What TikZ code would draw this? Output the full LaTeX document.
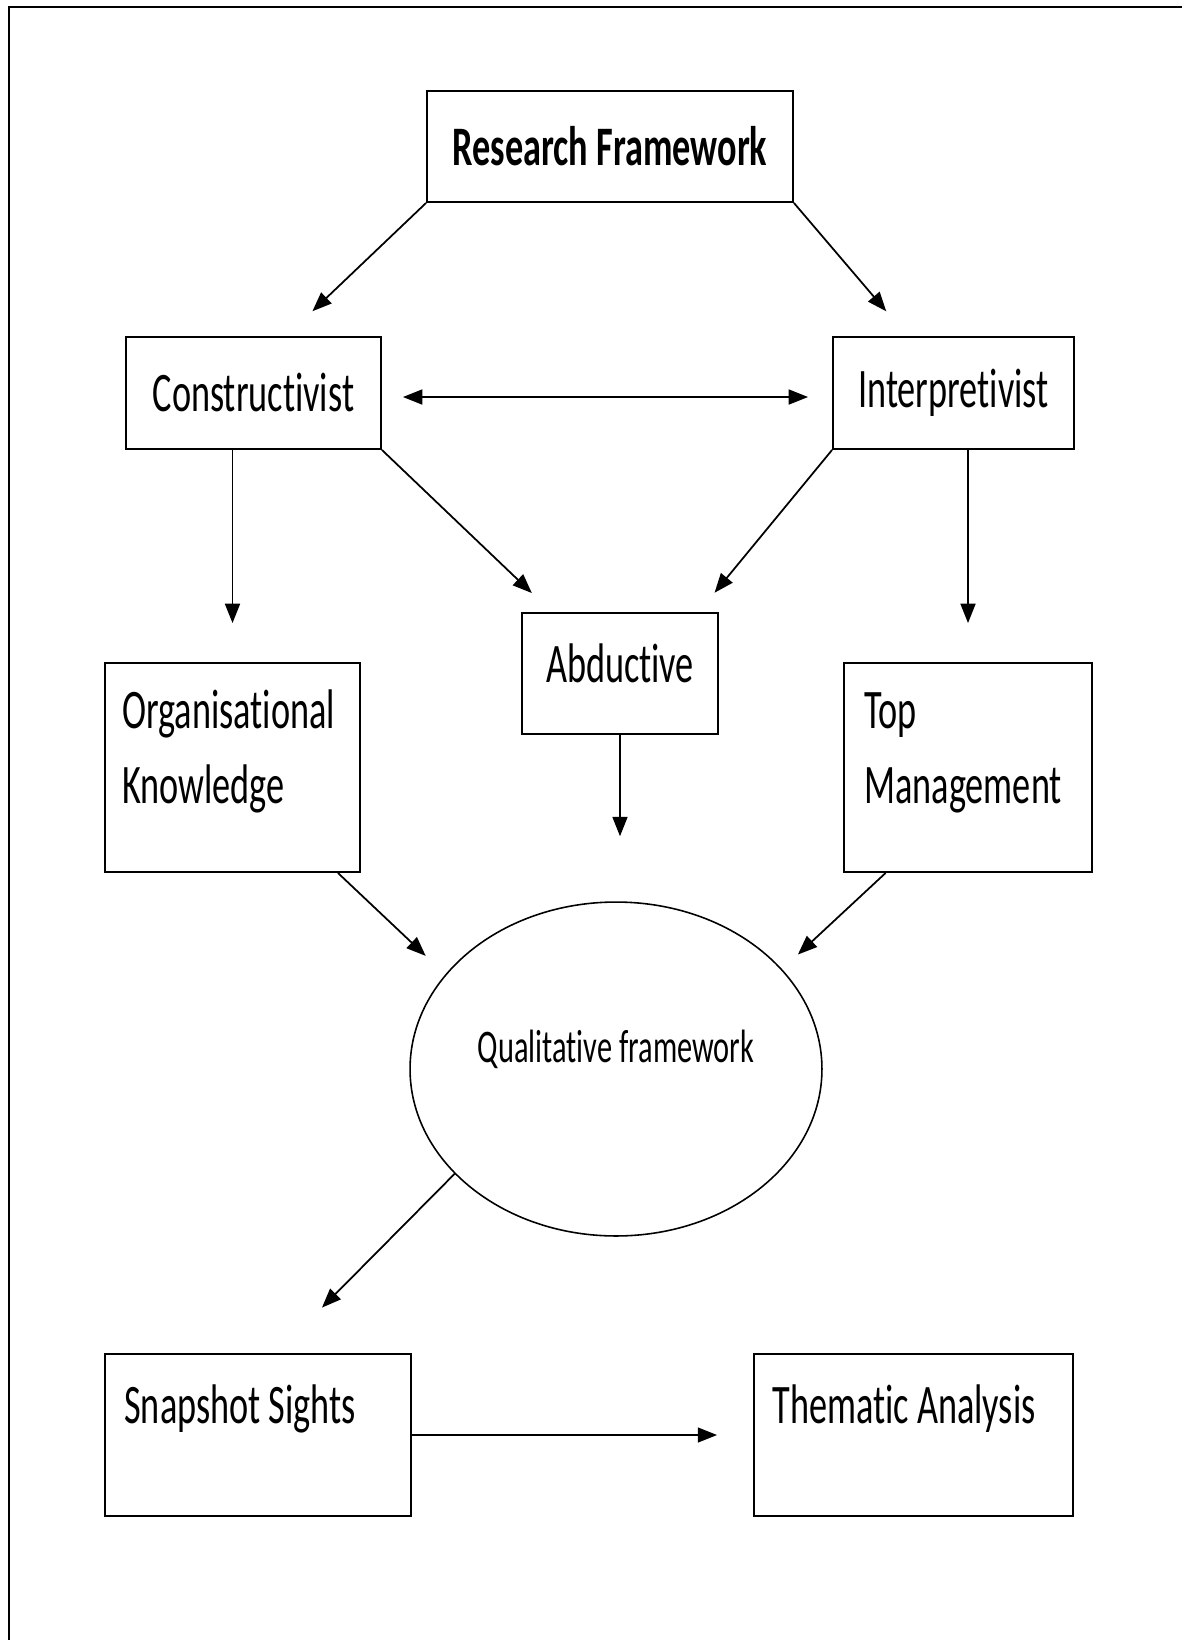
\documentclass[tikz,border=0pt]{standalone}
\usepackage{fontspec}
\setmainfont{Carlito}[FakeStretch=0.65, Ligatures=NoCommon]
\usetikzlibrary{arrows.meta, shapes.geometric, calc, positioning}

\begin{document}
\begin{tikzpicture}[x=0.02cm, y=-0.02cm,
    every node/.style={font=\fontsize{31.75}{40}\selectfont},
    box/.style={draw, line width=1.1pt, inner sep=0pt},
    lbl/.style={inner sep=0pt, anchor=base west},
    arr/.style={line width=1pt, -{Triangle[length=11pt,width=8.5pt]}},
    arrboth/.style={line width=1pt, {Triangle[length=11pt,width=8.5pt]}-{Triangle[length=11pt,width=8.5pt]}}]

    \useasboundingbox (0,0) rectangle (1182,1640);

    % cadre
    \draw[line width=1pt] (9,1640) -- (9,7) -- (1182,7);

    % les boites
    \node[box, minimum width=7.32cm, minimum height=2.22cm, font=\fontsize{31.75}{40}\selectfont\bfseries] (rf) at (610,146.5) {Research Framework};
    \node[box, minimum width=5.10cm, minimum height=2.24cm] (con) at (253.5,393) {Constructivist};
    \node[box, minimum width=4.82cm, minimum height=2.24cm] (int) at (953.5,393) {Interpretivist};
    \node[box, minimum width=3.92cm, minimum height=2.42cm, text depth=12pt] (abd) at (620,673.5) {Abductive};
    \node[box, minimum width=5.10cm, minimum height=4.18cm] (org) at (232.5,767.5) {};
    \node[box, minimum width=4.96cm, minimum height=4.18cm] (top) at (968,767.5) {};
    \node[draw, ellipse, line width=0.9pt, inner sep=0pt, minimum width=8.24cm, minimum height=6.68cm] (qual) at (616,1069) {};
    \node[box, minimum width=6.12cm, minimum height=3.24cm] (snap) at (258,1435) {};
    \node[box, minimum width=6.38cm, minimum height=3.24cm] (them) at (913.5,1435) {};

    % les textes
    \node[lbl] (orgA) at (122,728) {Organisational};
    \node[lbl] (orgB) at (122,803) {Knowledge};
    \node[lbl] (topA) at (864,728) {Top};
    \node[lbl] (topB) at (864,803) {Management};
    \node[inner sep=0pt, anchor=base, font=\fontsize{26.6}{32}\selectfont] (qualT) at (616,1062) {Qualitative framework};
    \node[lbl] (snapT) at (124,1423) {Snapshot Sights};
    \node[lbl] (themT) at (772,1423) {Thematic Analysis};

    % les fleches
    \draw[arr, shorten >=0.72cm] (rf.south west) -- (con.60);
    \draw[arr, shorten >=0.65cm] (rf.south east) -- (int.129);
    \draw[arrboth, shorten <=0.42cm, shorten >=0.48cm] ($(con.east)+(0,4)$) -- ($(int.west)+(0,4)$);
    \draw[arr, shorten >=0.78cm] (con.south -| org.north) -- (org.north);
    \draw[arr, shorten >=0.55cm] (con.south east) -- (abd.138);
    \draw[arr, shorten >=0.5cm] (int.south west) -- (abd.38);
    \draw[arr, shorten >=0.78cm] (int.south -| top.north) -- (top.north);
    \draw[arr, shorten >=1.3cm] (abd.south) -- (abd.south |- qual.north);
    \draw[arr, shorten >=0.54cm] (org.-45) -- (qual.151);
    \draw[arr, shorten >=0.43cm] (top.-128) -- (qual.31);
    \draw[arr, shorten >=1.28cm] (qual.213) -- (snap.77);
    \draw[arr, shorten >=0.72cm] (snap.east) -- (them.west);

\end{tikzpicture}
\end{document}
